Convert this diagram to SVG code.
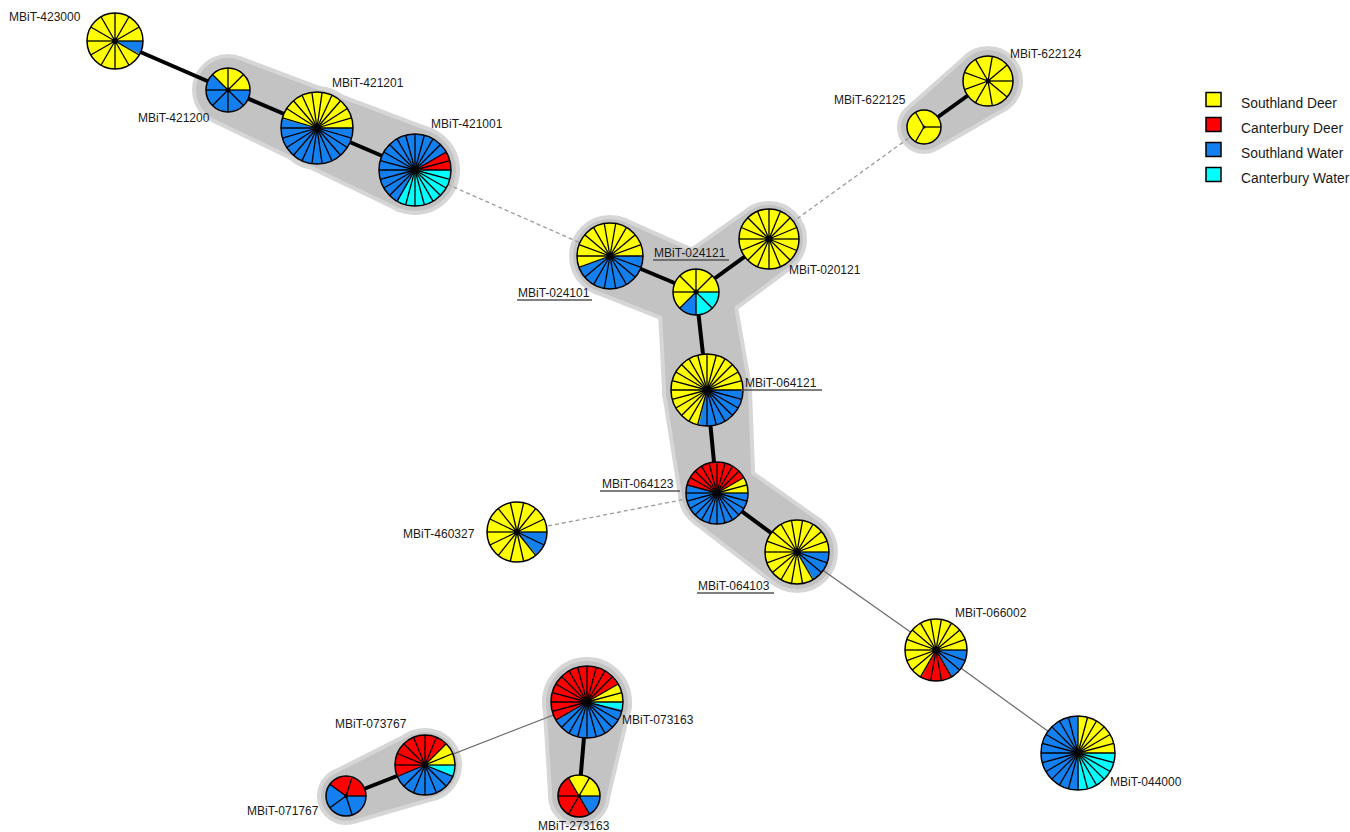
<svg xmlns="http://www.w3.org/2000/svg" xmlns:xlink="http://www.w3.org/1999/xlink" width="1350" height="832" viewBox="0 0 1350 832">
<style>
.t{font-family:"Liberation Sans",Arial,sans-serif;font-size:12px;fill:#1a1a1a}
.lg{font-family:"Liberation Sans",Arial,sans-serif;font-size:13.8px;fill:#1a1a1a}
.ul{stroke:#555;stroke-width:1.3}
.hb *{fill:#d6d6d6;stroke:#d6d6d6;stroke-width:8;stroke-linejoin:round}
.hf *{fill:#c3c3c3}
.thick{stroke:#000;stroke-width:4;fill:none}
.thin{stroke:#6a6a6a;stroke-width:1.2;fill:none}
.dash{stroke:#9a9a9a;stroke-width:1.3;fill:none;stroke-dasharray:4 3}
.rim{fill:none;stroke:#000;stroke-width:1.5}
.sY{fill:none;stroke:#ffff00;stroke-width:1}
.sR{fill:none;stroke:#ff0000;stroke-width:1}
.sB{fill:none;stroke:#1480f0;stroke-width:1}
.sC{fill:none;stroke:#00ffff;stroke-width:1}
.Y{fill:#ffff00}.R{fill:#ff0000}.B{fill:#1480f0}.C{fill:#00ffff}
.box{stroke:#000;stroke-width:1.5}
</style>
<defs>
<path id="k" d="M0 0H1" stroke="#000" stroke-width="1.3" vector-effect="non-scaling-stroke"/>
<g id="s3"><use href="#k"/><use href="#k" transform="rotate(120)"/><use href="#k" transform="rotate(240)"/></g>
<g id="s5"><use href="#k"/><use href="#k" transform="rotate(72)"/><use href="#k" transform="rotate(144)"/><use href="#k" transform="rotate(216)"/><use href="#k" transform="rotate(288)"/></g>
<g id="s6"><use href="#k"/><use href="#k" transform="rotate(60)"/><use href="#k" transform="rotate(120)"/><use href="#k" transform="rotate(180)"/><use href="#k" transform="rotate(240)"/><use href="#k" transform="rotate(300)"/></g>
<g id="s8"><use href="#k"/><use href="#k" transform="rotate(45)"/><use href="#k" transform="rotate(90)"/><use href="#k" transform="rotate(135)"/><use href="#k" transform="rotate(180)"/><use href="#k" transform="rotate(225)"/><use href="#k" transform="rotate(270)"/><use href="#k" transform="rotate(315)"/></g>
<g id="s9"><use href="#k"/><use href="#k" transform="rotate(40)"/><use href="#k" transform="rotate(80)"/><use href="#k" transform="rotate(120)"/><use href="#k" transform="rotate(160)"/><use href="#k" transform="rotate(200)"/><use href="#k" transform="rotate(240)"/><use href="#k" transform="rotate(280)"/><use href="#k" transform="rotate(320)"/></g>
<g id="s12"><use href="#k"/><use href="#k" transform="rotate(30)"/><use href="#k" transform="rotate(60)"/><use href="#k" transform="rotate(90)"/><use href="#k" transform="rotate(120)"/><use href="#k" transform="rotate(150)"/><use href="#k" transform="rotate(180)"/><use href="#k" transform="rotate(210)"/><use href="#k" transform="rotate(240)"/><use href="#k" transform="rotate(270)"/><use href="#k" transform="rotate(300)"/><use href="#k" transform="rotate(330)"/></g>
<g id="s14"><use href="#k"/><use href="#k" transform="rotate(25.71)"/><use href="#k" transform="rotate(51.43)"/><use href="#k" transform="rotate(77.14)"/><use href="#k" transform="rotate(102.86)"/><use href="#k" transform="rotate(128.57)"/><use href="#k" transform="rotate(154.29)"/><use href="#k" transform="rotate(180)"/><use href="#k" transform="rotate(205.71)"/><use href="#k" transform="rotate(231.43)"/><use href="#k" transform="rotate(257.14)"/><use href="#k" transform="rotate(282.86)"/><use href="#k" transform="rotate(308.57)"/><use href="#k" transform="rotate(334.29)"/></g>
<g id="s16"><use href="#k"/><use href="#k" transform="rotate(22.5)"/><use href="#k" transform="rotate(45)"/><use href="#k" transform="rotate(67.5)"/><use href="#k" transform="rotate(90)"/><use href="#k" transform="rotate(112.5)"/><use href="#k" transform="rotate(135)"/><use href="#k" transform="rotate(157.5)"/><use href="#k" transform="rotate(180)"/><use href="#k" transform="rotate(202.5)"/><use href="#k" transform="rotate(225)"/><use href="#k" transform="rotate(247.5)"/><use href="#k" transform="rotate(270)"/><use href="#k" transform="rotate(292.5)"/><use href="#k" transform="rotate(315)"/><use href="#k" transform="rotate(337.5)"/></g>
<g id="s18"><use href="#k"/><use href="#k" transform="rotate(20)"/><use href="#k" transform="rotate(40)"/><use href="#k" transform="rotate(60)"/><use href="#k" transform="rotate(80)"/><use href="#k" transform="rotate(100)"/><use href="#k" transform="rotate(120)"/><use href="#k" transform="rotate(140)"/><use href="#k" transform="rotate(160)"/><use href="#k" transform="rotate(180)"/><use href="#k" transform="rotate(200)"/><use href="#k" transform="rotate(220)"/><use href="#k" transform="rotate(240)"/><use href="#k" transform="rotate(260)"/><use href="#k" transform="rotate(280)"/><use href="#k" transform="rotate(300)"/><use href="#k" transform="rotate(320)"/><use href="#k" transform="rotate(340)"/></g>
<g id="s22"><use href="#k"/><use href="#k" transform="rotate(16.36)"/><use href="#k" transform="rotate(32.73)"/><use href="#k" transform="rotate(49.09)"/><use href="#k" transform="rotate(65.45)"/><use href="#k" transform="rotate(81.82)"/><use href="#k" transform="rotate(98.18)"/><use href="#k" transform="rotate(114.55)"/><use href="#k" transform="rotate(130.91)"/><use href="#k" transform="rotate(147.27)"/><use href="#k" transform="rotate(163.64)"/><use href="#k" transform="rotate(180)"/><use href="#k" transform="rotate(196.36)"/><use href="#k" transform="rotate(212.73)"/><use href="#k" transform="rotate(229.09)"/><use href="#k" transform="rotate(245.45)"/><use href="#k" transform="rotate(261.82)"/><use href="#k" transform="rotate(278.18)"/><use href="#k" transform="rotate(294.55)"/><use href="#k" transform="rotate(310.91)"/><use href="#k" transform="rotate(327.27)"/><use href="#k" transform="rotate(343.64)"/></g>
<g id="s24"><use href="#k"/><use href="#k" transform="rotate(15)"/><use href="#k" transform="rotate(30)"/><use href="#k" transform="rotate(45)"/><use href="#k" transform="rotate(60)"/><use href="#k" transform="rotate(75)"/><use href="#k" transform="rotate(90)"/><use href="#k" transform="rotate(105)"/><use href="#k" transform="rotate(120)"/><use href="#k" transform="rotate(135)"/><use href="#k" transform="rotate(150)"/><use href="#k" transform="rotate(165)"/><use href="#k" transform="rotate(180)"/><use href="#k" transform="rotate(195)"/><use href="#k" transform="rotate(210)"/><use href="#k" transform="rotate(225)"/><use href="#k" transform="rotate(240)"/><use href="#k" transform="rotate(255)"/><use href="#k" transform="rotate(270)"/><use href="#k" transform="rotate(285)"/><use href="#k" transform="rotate(300)"/><use href="#k" transform="rotate(315)"/><use href="#k" transform="rotate(330)"/><use href="#k" transform="rotate(345)"/></g>
<circle id="rim" r="1" class="rim" vector-effect="non-scaling-stroke"/>
</defs>
<rect width="1350" height="832" fill="#fff"/>

<g id="hulls">
 <g class="hb">
  <polygon points="240.6,60.6 431.1,132.3 398.9,207.7 215.4,119.4"/><circle cx="228" cy="90" r="32"/><circle cx="317" cy="128" r="38"/><circle cx="415" cy="170" r="41"/>
  <polygon points="624.3,221.9 709.5,259.7 682.5,324.3 595.7,290.1"/><polygon points="675.4,263.7 749,211.5 789,266.5 716.6,320.3"/><polygon points="661.2,295.9 730.8,288.1 747.7,385.4 666.3,394.6"/><polygon points="666.2,394 747.8,386 751.8,489.6 682.2,496.4"/><polygon points="737.8,464.8 819,522.2 775,581.8 696.2,521.2"/>
  <circle cx="610" cy="256" r="37"/><circle cx="696" cy="292" r="35"/><circle cx="769" cy="239" r="34"/><circle cx="707" cy="390" r="41"/><circle cx="717" cy="493" r="35"/><circle cx="797" cy="552" r="37"/>
  <polygon points="910.6,108.3 969.9,55.8 1006.1,106.2 937.4,145.7"/><circle cx="924" cy="127" r="23"/><circle cx="988" cy="81" r="31"/>
  <polygon points="336.9,772.7 413,734.3 437,795.7 355.1,819.3"/><circle cx="346" cy="796" r="25"/><circle cx="425" cy="765" r="33"/>
  <polygon points="546.1,698.5 627.9,705.5 605.9,798.3 552.1,793.7"/><circle cx="587" cy="702" r="41"/><circle cx="579" cy="796" r="27"/>
 </g>
 <g class="hf">
  <polygon points="240.6,60.6 431.1,132.3 398.9,207.7 215.4,119.4"/><circle cx="228" cy="90" r="32"/><circle cx="317" cy="128" r="38"/><circle cx="415" cy="170" r="41"/>
  <polygon points="624.3,221.9 709.5,259.7 682.5,324.3 595.7,290.1"/><polygon points="675.4,263.7 749,211.5 789,266.5 716.6,320.3"/><polygon points="661.2,295.9 730.8,288.1 747.7,385.4 666.3,394.6"/><polygon points="666.2,394 747.8,386 751.8,489.6 682.2,496.4"/><polygon points="737.8,464.8 819,522.2 775,581.8 696.2,521.2"/>
  <circle cx="610" cy="256" r="37"/><circle cx="696" cy="292" r="35"/><circle cx="769" cy="239" r="34"/><circle cx="707" cy="390" r="41"/><circle cx="717" cy="493" r="35"/><circle cx="797" cy="552" r="37"/>
  <polygon points="910.6,108.3 969.9,55.8 1006.1,106.2 937.4,145.7"/><circle cx="924" cy="127" r="23"/><circle cx="988" cy="81" r="31"/>
  <polygon points="336.9,772.7 413,734.3 437,795.7 355.1,819.3"/><circle cx="346" cy="796" r="25"/><circle cx="425" cy="765" r="33"/>
  <polygon points="546.1,698.5 627.9,705.5 605.9,798.3 552.1,793.7"/><circle cx="587" cy="702" r="41"/><circle cx="579" cy="796" r="27"/>
 </g>
</g>

<g id="connectors">
 <line class="thick" x1="115" y1="41" x2="228" y2="90"/>
 <line class="thick" x1="228" y1="90" x2="317" y2="128"/>
 <line class="thick" x1="317" y1="128" x2="415" y2="170"/>
 <line class="dash" x1="415" y1="170" x2="610" y2="256"/>
 <line class="thick" x1="610" y1="256" x2="696" y2="292"/>
 <line class="thick" x1="696" y1="292" x2="769" y2="239"/>
 <line class="dash" x1="769" y1="239" x2="924" y2="127"/>
 <line class="thick" x1="924" y1="127" x2="988" y2="81"/>
 <line class="thick" x1="696" y1="292" x2="707" y2="390"/>
 <line class="thick" x1="707" y1="390" x2="717" y2="493"/>
 <line class="dash" x1="717" y1="493" x2="517" y2="532"/>
 <line class="thick" x1="717" y1="493" x2="797" y2="552"/>
 <line class="thin" x1="797" y1="552" x2="936" y2="650"/>
 <line class="thin" x1="936" y1="650" x2="1078" y2="753"/>
 <line class="thin" x1="587" y1="702" x2="425" y2="765"/>
 <line class="thick" x1="425" y1="765" x2="346" y2="796"/>
 <line class="thick" x1="587" y1="702" x2="579" y2="796"/>
</g>

<g id="n-423000"><g transform="translate(115,41) scale(28)"><circle r="1" class="Y"/><g transform="scale(1,-1)"><circle r=".5" class="sB" stroke-dasharray="0.2618 10" stroke-dashoffset="-2.8798"/></g><use href="#s12"/><use href="#rim"/></g><circle cx="115" cy="41" r="3"/><text class="t" x="9" y="21">MBiT-423000</text></g>

<g id="n-421200"><g transform="translate(228,90) scale(22)"><circle r="1" class="Y"/><g transform="scale(1,-1)"><circle r=".5" class="sB" stroke-dasharray="1.9635 10" stroke-dashoffset="-1.1781"/></g><use href="#s8"/><use href="#rim"/></g><circle cx="228" cy="90" r="2.5"/><text class="t" x="138" y="122">MBiT-421200</text></g>

<g id="n-421201"><g transform="translate(317,128) scale(36)"><circle r="1" class="Y"/><g transform="scale(1,-1)"><circle r=".5" class="sB" stroke-dasharray="1.7136 10" stroke-dashoffset="-1.4280"/></g><use href="#s22"/><use href="#rim"/></g><circle cx="317" cy="128" r="4"/><text class="t" x="332" y="87">MBiT-421201</text></g>

<g id="n-421001"><g transform="translate(415,170) scale(36)"><circle r="1" class="B"/><g transform="scale(1,-1)"><circle r=".5" class="sR" stroke-dasharray="0.2618 10"/><circle r=".5" class="sC" stroke-dasharray="1.0472 10" stroke-dashoffset="-2.0944"/></g><use href="#s24"/><use href="#rim"/></g><circle cx="415" cy="170" r="4"/><text class="t" x="431" y="128">MBiT-421001</text></g>

<g id="n-024101"><g transform="translate(610,256) scale(33)"><circle r="1" class="Y"/><g transform="scale(1,-1)"><circle r=".5" class="sB" stroke-dasharray="1.3963 10" stroke-dashoffset="-1.7453"/></g><use href="#s18"/><use href="#rim"/></g><circle cx="610" cy="256" r="3.5"/><text class="t" x="518" y="297">MBiT-024101</text><line class="ul" x1="517" y1="300" x2="592" y2="300"/></g>

<g id="n-024121"><g transform="translate(696,292) scale(23)"><circle r="1" class="Y"/><g transform="scale(1,-1)"><circle r=".5" class="sB" stroke-dasharray="0.3927 10" stroke-dashoffset="-1.9635"/><circle r=".5" class="sC" stroke-dasharray="0.7854 10" stroke-dashoffset="-2.3562"/></g><use href="#s8"/><use href="#rim"/></g><circle cx="696" cy="292" r="2.5"/><text class="t" x="654" y="257">MBiT-024121</text><line class="ul" x1="653" y1="260" x2="729" y2="260"/></g>

<g id="n-020121"><g transform="translate(769,239) scale(30)"><circle r="1" class="Y"/><use href="#s16"/><use href="#rim"/></g><circle cx="769" cy="239" r="3.5"/><text class="t" x="789" y="274">MBiT-020121</text></g>

<g id="n-622124"><g transform="translate(988,81) scale(25)"><circle r="1" class="Y"/><use href="#s9"/><use href="#rim"/></g><circle cx="988" cy="81" r="2.5"/><text class="t" x="1010" y="58">MBiT-622124</text></g>

<g id="n-622125"><g transform="translate(924,127) scale(17)"><circle r="1" class="Y"/><use href="#s3"/><use href="#rim"/></g><circle cx="924" cy="127" r="1.5"/><text class="t" x="834" y="104">MBiT-622125</text></g>

<g id="n-064121"><g transform="translate(707,390) scale(36)"><circle r="1" class="Y"/><g transform="scale(1,-1)"><circle r=".5" class="sB" stroke-dasharray="0.9163 10" stroke-dashoffset="-2.2253"/></g><use href="#s24"/><use href="#rim"/></g><circle cx="707" cy="390" r="4"/><text class="t" x="745" y="387">MBiT-064121</text><line class="ul" x1="741" y1="390" x2="822" y2="390"/></g>

<g id="n-064123"><g transform="translate(717,493) scale(31)"><circle r="1" class="B"/><g transform="scale(1,-1)"><circle r=".5" class="sY" stroke-dasharray="0.2618 10"/><circle r=".5" class="sR" stroke-dasharray="1.1781 10" stroke-dashoffset="-0.2618"/></g><use href="#s24"/><use href="#rim"/></g><circle cx="717" cy="493" r="3.5"/><text class="t" x="602" y="488">MBiT-064123</text><line class="ul" x1="600" y1="491" x2="680" y2="491"/></g>

<g id="n-460327"><g transform="translate(517,532) scale(30)"><circle r="1" class="Y"/><g transform="scale(1,-1)"><circle r=".5" class="sB" stroke-dasharray="0.4488 10" stroke-dashoffset="-2.6928"/></g><use href="#s14"/><use href="#rim"/></g><circle cx="517" cy="532" r="3"/><text class="t" x="403" y="538">MBiT-460327</text></g>

<g id="n-064103"><g transform="translate(797,552) scale(32)"><circle r="1" class="Y"/><g transform="scale(1,-1)"><circle r=".5" class="sB" stroke-dasharray="0.5236 10" stroke-dashoffset="-2.6180"/></g><use href="#s18"/><use href="#rim"/></g><circle cx="797" cy="552" r="3.5"/><text class="t" x="698" y="590">MBiT-064103</text><line class="ul" x1="697" y1="593" x2="774" y2="593"/></g>

<g id="n-066002"><g transform="translate(936,650) scale(31)"><circle r="1" class="Y"/><g transform="scale(1,-1)"><circle r=".5" class="sR" stroke-dasharray="0.5236 10" stroke-dashoffset="-2.0944"/><circle r=".5" class="sB" stroke-dasharray="0.5236 10" stroke-dashoffset="-2.6180"/></g><use href="#s18"/><use href="#rim"/></g><circle cx="936" cy="650" r="3.5"/><text class="t" x="955" y="617">MBiT-066002</text></g>

<g id="n-044000"><g transform="translate(1078,753) scale(37)"><circle r="1" class="B"/><g transform="scale(1,-1)"><circle r=".5" class="sY" stroke-dasharray="0.7854 10"/><circle r=".5" class="sC" stroke-dasharray="0.7854 10" stroke-dashoffset="-2.3562"/></g><use href="#s24"/><use href="#rim"/></g><circle cx="1078" cy="753" r="4"/><text class="t" x="1110" y="786">MBiT-044000</text></g>

<g id="n-073767"><g transform="translate(425,765) scale(30)"><circle r="1" class="R"/><g transform="scale(1,-1)"><circle r=".5" class="sY" stroke-dasharray="0.3927 10"/><circle r=".5" class="sB" stroke-dasharray="1.1781 10" stroke-dashoffset="-1.7671"/><circle r=".5" class="sC" stroke-dasharray="0.1963 10" stroke-dashoffset="-2.9452"/></g><use href="#s16"/><use href="#rim"/></g><circle cx="425" cy="765" r="3"/><text class="t" x="335" y="728">MBiT-073767</text></g>

<g id="n-071767"><g transform="translate(346,796) scale(20)"><circle r="1" class="B"/><g transform="scale(1,-1)"><circle r=".5" class="sR" stroke-dasharray="1.2566 10"/></g><use href="#s5"/><use href="#rim"/></g><circle cx="346" cy="796" r="2"/><text class="t" x="247" y="815">MBiT-071767</text></g>

<g id="n-073163"><g transform="translate(587,702) scale(36)"><circle r="1" class="R"/><g transform="scale(1,-1)"><circle r=".5" class="sY" stroke-dasharray="0.2618 10"/><circle r=".5" class="sB" stroke-dasharray="1.1781 10" stroke-dashoffset="-1.8326"/><circle r=".5" class="sC" stroke-dasharray="0.1309 10" stroke-dashoffset="-3.0107"/></g><use href="#s24"/><use href="#rim"/></g><circle cx="587" cy="702" r="4"/><text class="t" x="622" y="724">MBiT-073163</text></g>

<g id="n-273163"><g transform="translate(579,796) scale(21)"><circle r="1" class="R"/><g transform="scale(1,-1)"><circle r=".5" class="sY" stroke-dasharray="1.0472 10"/><circle r=".5" class="sB" stroke-dasharray="0.5236 10" stroke-dashoffset="-2.6180"/></g><use href="#s6"/><use href="#rim"/></g><circle cx="579" cy="796" r="2"/><text class="t" x="538" y="830">MBiT-273163</text></g>

<g id="legend">
 <rect class="Y box" x="1206" y="92.5" width="15" height="14"/>
 <rect class="R box" x="1206" y="117.5" width="15" height="14"/>
 <rect class="B box" x="1206" y="142.5" width="15" height="14"/>
 <rect class="C box" x="1206" y="167.5" width="15" height="14"/>
 <text class="lg" x="1241" y="108">Southland Deer</text>
 <text class="lg" x="1241" y="133">Canterbury Deer</text>
 <text class="lg" x="1241" y="158">Southland Water</text>
 <text class="lg" x="1241" y="183">Canterbury Water</text>
</g>
</svg>
